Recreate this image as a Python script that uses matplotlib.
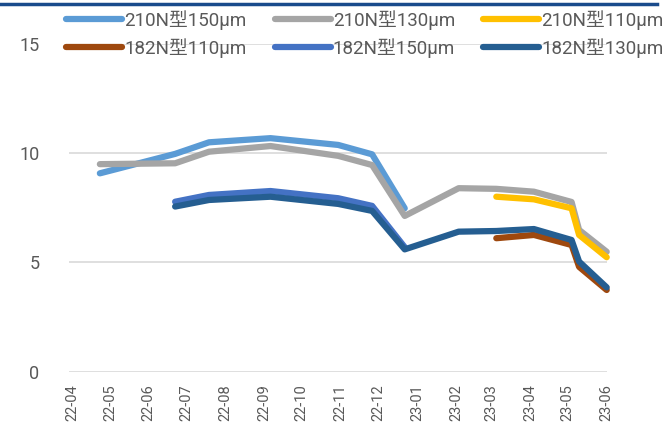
import numpy as np
import matplotlib
matplotlib.use('Agg')
import matplotlib.pyplot as plt
import matplotlib.dates as mdates
from matplotlib.lines import Line2D

nan = np.nan

# 数据
dates = ['2022-04-23', '2022-06-22', '2022-07-19', '2022-09-06', '2022-10-30',
         '2022-11-26', '2022-12-22', '2023-02-03', '2023-03-05', '2023-04-04',
         '2023-05-04', '2023-05-10', '2023-06-01']
n210_150 = [9.08, 9.97, 10.50, 10.69, 10.38, 9.95, 7.48, nan, nan, nan, nan, nan, nan]
n210_130 = [9.50, 9.54, 10.07, 10.33, 9.88, 9.46, 7.13, 8.40, 8.37, 8.24, 7.77, 6.49, 5.49]
n210_110 = [nan, nan, nan, nan, nan, nan, nan, nan, 8.01, 7.89, 7.48, 6.26, 5.24]
n182_110 = [nan, nan, nan, nan, nan, nan, nan, nan, 6.11, 6.26, 5.80, 4.80, 3.74]
n182_150 = [nan, 7.78, 8.09, 8.27, 7.94, 7.59, 5.70, nan, nan, nan, nan, nan, nan]
n182_130 = [nan, 7.56, 7.86, 8.01, 7.68, 7.36, 5.60, 6.41, 6.44, 6.53, 6.03, 5.04, 3.86]

labels = ['210N型150µm', '210N型130µm', '210N型110µm',
          '182N型110µm', '182N型150µm', '182N型130µm']
series = [n210_150, n210_130, n210_110, n182_110, n182_150, n182_130]
colors = ['#5B9BD5', '#A5A5A5', '#FFC000', '#9E480E', '#4472C4', '#255E91']

plt.rcParams['font.family'] = ['Roboto', 'Noto Sans CJK SC', 'DejaVu Sans']
txt = '#595959'

x = mdates.datestr2num(dates)

fig = plt.figure(figsize=(6.67, 4.36), dpi=100)
ax = fig.add_axes([68.5 / 667, 1 - 371.7 / 436, (606.7 - 68.5) / 667, (371.7 - 44) / 436])

handles = []
for y, c, lab in zip(series, colors, labels):
    h, = ax.plot(x, y, color=c, lw=4.5, label=lab, solid_capstyle='round',
                 solid_joinstyle='round', clip_on=False)
    handles.append(h)

ax.set_ylim(0, 15)
ax.set_yticks([0, 5, 10, 15])
ax.set_xlim(mdates.datestr2num('2022-03-29'), mdates.datestr2num('2023-06-01'))
ax.xaxis.set_major_locator(mdates.MonthLocator())
ax.xaxis.set_major_formatter(mdates.DateFormatter('%y-%m'))
ax.grid(axis='y', color='#D9D9D9', lw=1.2)
ax.set_axisbelow(True)
for s in ax.spines.values():
    s.set_visible(False)
ax.tick_params(axis='both', length=0, colors=txt)
ax.tick_params(axis='y', labelsize=13, pad=21)
ax.tick_params(axis='x', labelsize=10.5, pad=9, rotation=90)

# 图例按行排列
order = [0, 3, 1, 4, 2, 5]
fig.legend([handles[i] for i in order], [labels[i] for i in order],
           ncol=3, loc='upper left', bbox_to_anchor=(66 / 667, 1 - 10 / 436),
           frameon=False, fontsize=13.5, handlelength=3.0, handletextpad=0.1,
           columnspacing=1.5, labelspacing=0.45, borderpad=0, borderaxespad=0,
           labelcolor=txt)

# 顶部深蓝色线
fig.add_artist(Line2D([0, 0.985], [0.9897, 0.9897], color='#1A4B8C', lw=2.5))

plt.savefig('out.png', dpi=100)
